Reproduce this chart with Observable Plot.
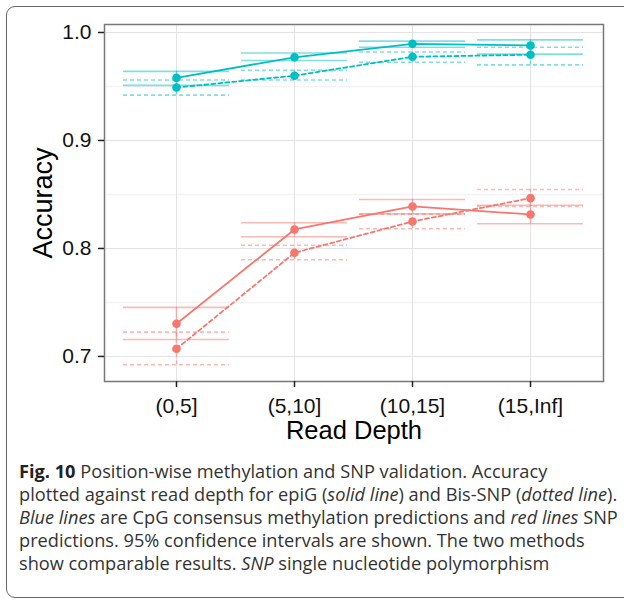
<!DOCTYPE html>
<html>
<head>
<meta charset="utf-8">
<script src="https://cdn.jsdelivr.net/npm/d3@7"></script>
<script src="https://cdn.jsdelivr.net/npm/@observablehq/plot@0.6"></script>
<style>
  html, body { margin: 0; padding: 0; width: 624px; height: 602px; overflow: hidden; background: #fff; }
  #frame { position: absolute; left: 6px; top: 6px; width: 700px; height: 592px; border: 1.4px solid #666; border-radius: 9px; box-sizing: border-box; }
  #chart { position: absolute; left: 0; top: 0; }
  #caption { position: absolute; left: 19px; top: 460px; font-family: "Open Sans", sans-serif; font-size: 18.2px; line-height: 23px; color: #333; white-space: nowrap; }
  #caption b { color: #222; }
</style>
</head>
<body>
<div id="frame"></div>
<div id="chart"></div>
<div id="caption">
<div><b>Fig. 10</b> Position-wise methylation and SNP validation. Accuracy</div>
<div>plotted against read depth for epiG (<i>solid line</i>) and Bis-SNP (<i>dotted line</i>).</div>
<div><i>Blue lines</i> are CpG consensus methylation predictions and <i>red lines</i> SNP</div>
<div>predictions. 95% confidence intervals are shown. The two methods</div>
<div>show comparable results. <i>SNP</i> single nucleotide polymorphism</div>
</div>
<script>
const categories = ["(0,5]", "(5,10]", "(10,15]", "(15,Inf]"];

// Methylation (blue)
const methEpiG     = [0.958, 0.977, 0.9895, 0.988];
const methEpiGLo   = [0.951, 0.974, 0.9864, 0.980];
const methEpiGHi   = [0.964, 0.981, 0.992, 0.9932];
const methBis      = [0.949, 0.960, 0.9775, 0.9794];
const methBisLo    = [0.942, 0.956, 0.9725, 0.970];
const methBisHi    = [0.956, 0.965, 0.982, 0.9864];
// SNP (red)
const snpEpiG      = [0.7303, 0.8176, 0.8389, 0.8315];
const snpEpiGLo    = [0.7157, 0.8108, 0.832, 0.8229];
const snpEpiGHi    = [0.7454, 0.8238, 0.8454, 0.840];
const snpBis       = [0.7071, 0.796, 0.825, 0.8466];
const snpBisLo     = [0.6923, 0.7895, 0.8182, 0.8389];
const snpBisHi     = [0.7225, 0.803, 0.8318, 0.8546];

const yTicks = [0.7, 0.8, 0.9, 1.0];
const yMinor = [0.75, 0.85, 0.95];

const BLUE = "#00BFC4", RED = "#F8766D";

function series(acc, lo, hi, color, dashed) {
  return categories.map((c, i) => ({cat: c, acc: acc[i], lo: lo[i], hi: hi[i], color, dashed}));
}
const groups = [
  series(methEpiG, methEpiGLo, methEpiGHi, BLUE, false),
  series(methBis, methBisLo, methBisHi, BLUE, true),
  series(snpEpiG, snpEpiGLo, snpEpiGHi, RED, false),
  series(snpBis, snpBisLo, snpBisHi, RED, true)
];

const marks = [
  Plot.ruleY(yMinor, {stroke: "#f3f3f3", strokeWidth: 1.5}),
  Plot.ruleY(yTicks, {stroke: "#e3e3e3", strokeWidth: 1}),
  Plot.ruleX(categories, {x: d => d, stroke: "#e3e3e3", strokeWidth: 1})
];

for (const g of groups) {
  const dash = g[0].dashed ? "4,3" : null;
  const col = g[0].color;
  marks.push(Plot.tickY(g, {x: "cat", y: "lo", stroke: col, strokeOpacity: 0.5, strokeWidth: 1.6, strokeDasharray: dash}));
  marks.push(Plot.tickY(g, {x: "cat", y: "hi", stroke: col, strokeOpacity: 0.5, strokeWidth: 1.6, strokeDasharray: dash}));
  marks.push(Plot.ruleX(g, {x: "cat", y1: "lo", y2: "hi", stroke: col, strokeOpacity: 0.5, strokeWidth: 1.6, strokeDasharray: dash}));
}
for (const g of groups) {
  const dash = g[0].dashed ? "4,3" : null;
  const col = g[0].color;
  marks.push(Plot.line(g, {x: "cat", y: "acc", stroke: col, strokeWidth: 1.8, strokeDasharray: dash}));
  marks.push(Plot.dot(g, {x: "cat", y: "acc", fill: col, r: 4.3}));
}

marks.push(Plot.frame({stroke: "#777", strokeWidth: 1.5}));
marks.push(Plot.axisY({ticks: yTicks, tickFormat: d3.format(".1f"), tickSize: 6, tickPadding: 7, stroke: "#222", strokeWidth: 1.5, fill: "#111", fontSize: 21, label: null}));
marks.push(Plot.axisX({tickSize: 6, tickPadding: 11, stroke: "#222", strokeWidth: 1.5, fill: "#111", fontSize: 21, label: null}));
marks.push(Plot.text(["Accuracy"], {frameAnchor: "left", textAnchor: "middle", lineAnchor: "middle", dx: -61, rotate: -90, fontSize: 27, fill: "#000", text: d => d}));
marks.push(Plot.text(["Read Depth"], {frameAnchor: "bottom", textAnchor: "middle", lineAnchor: "middle", dy: 49, fontSize: 25.5, fill: "#000", text: d => d}));

const chart = Plot.plot({
  width: 624,
  height: 455,
  marginLeft: 104,
  marginRight: 21,
  marginTop: 24,
  marginBottom: 74,
  style: {fontFamily: "'Liberation Sans', Arial, sans-serif", background: "transparent", overflow: "visible"},
  x: {type: "band", domain: categories, paddingInner: 0.1, paddingOuter: 0.15},
  y: {domain: [0.6768, 1.0074]},
  marks
});
document.getElementById("chart").appendChild(chart);
</script>
</body>
</html>
